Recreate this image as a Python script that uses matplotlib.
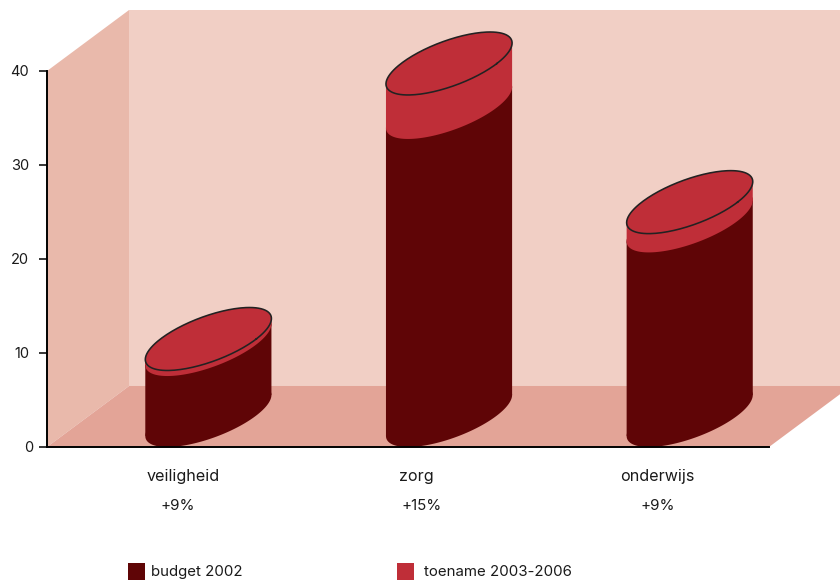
import numpy as np
import matplotlib.pyplot as plt
from matplotlib.patches import Patch
from matplotlib.transforms import ScaledTranslation

plt.rcParams['font.family'] = ['Inter', 'DejaVu Sans']

categories = ['veiligheid', 'zorg', 'onderwijs']
changes = ['+9%', '+15%', '+9%']
budget_2002 = [7.55, 32.77, 20.7]
toename = [0.59, 4.68, 2.0]
yticks = [0, 10, 20, 30, 40]

dark = '#5f0506'
red = '#bf2e38'
ink = '#1a1a1a'

fig = plt.figure(figsize=(8.4, 5.82), dpi=100)
ax = fig.add_axes([47 / 840, 1 - 447 / 582, 722 / 840, 376 / 582])
ax.set_xlim(-0.5, 2.5)
ax.set_ylim(0, 40)

# depth of the fake 3d box, in data units
depth_x = 0.341
depth_y = 6.49
disc_y = 6.7
half_w = 0.199


def walls():
    x0, x1 = ax.get_xlim()
    y0, y1 = ax.get_ylim()
    right = x1 + depth_x
    ax.fill([x0, x0 + depth_x, x0 + depth_x, x0],
            [y0, y0 + depth_y, y1 + depth_y, y1],
            color='#e9b9ab', lw=0, clip_on=False, zorder=1)
    ax.fill([x0 + depth_x, right, right, x0 + depth_x],
            [y0 + depth_y, y0 + depth_y, y1 + depth_y, y1 + depth_y],
            color='#f1cfc5', lw=0, clip_on=False, zorder=1)
    ax.fill([x0, x1, right, x0 + depth_x],
            [y0, y0, y0 + depth_y, y0 + depth_y],
            color='#e3a497', lw=0, clip_on=False, zorder=1.5)


def disc(cx, level):
    t = np.linspace(0, 2 * np.pi, 181)
    x = cx + half_w * np.cos(t) + depth_x / 2 * np.sin(t)
    y = level + disc_y / 2 + disc_y / 2 * np.sin(t)
    return x, y


def cylinder(cx, low, high, color, z):
    # body between two discs, the sides meet the discs at their widest points
    side = np.arctan2(depth_x / 2, half_w)
    off_x = np.hypot(half_w, depth_x / 2)
    off_y = disc_y / 2 * np.sin(side)
    mid = disc_y / 2
    xs = [cx - off_x, cx + off_x, cx + off_x, cx - off_x]
    ys = [low + mid - off_y, low + mid + off_y, high + mid + off_y, high + mid - off_y]
    ax.fill(xs, ys, color=color, lw=0, clip_on=False, zorder=z)
    ax.fill(*disc(cx, low), color=color, lw=0, clip_on=False, zorder=z)
    ax.fill(*disc(cx, high), color=color, lw=0, clip_on=False, zorder=z)


walls()
for i in range(len(categories)):
    cx = i + depth_x / 2
    total = budget_2002[i] + toename[i]
    cylinder(cx, 0, budget_2002[i], dark, 2 + i * 0.1)
    cylinder(cx, budget_2002[i], total, red, 2.02 + i * 0.1)
    x, y = disc(cx, total)
    ax.plot(x, y, color='#222222', lw=1.15, clip_on=False, zorder=2.05 + i * 0.1)

for side in ['top', 'right']:
    ax.spines[side].set_visible(False)
for side in ['left', 'bottom']:
    ax.spines[side].set_linewidth(1.4)
    ax.spines[side].set_color('black')
    ax.spines[side].set_zorder(3)
ax.patch.set_visible(False)

ax.set_yticks(yticks)
ax.tick_params(axis='y', length=6, width=1.1, labelsize=10.5, labelcolor=ink, pad=7)
ax.set_xticks([])

# the zero sits closer to the axis than the other tick labels
zero = ax.get_yticklabels()[0]
zero.set_transform(zero.get_transform() + ScaledTranslation(4 / 100, 0, fig.dpi_scale_trans))

# text sits a little off the category centres
label_shift = [16, 8, 9]
change_shift = [10, 14, 9]
for i in range(len(categories)):
    ax.annotate(categories[i], (i, 0), xytext=(label_shift[i] * 0.72, -30 * 0.72),
                textcoords='offset points', ha='center', va='center',
                fontsize=11.6, color=ink, annotation_clip=False)
    ax.annotate(changes[i], (i, 0), xytext=(change_shift[i] * 0.72, -59 * 0.72),
                textcoords='offset points', ha='center', va='center',
                fontsize=10.9, color=ink, annotation_clip=False)

# two separate legends, the gap to the text differs between them
legend_opts = dict(frameon=False, loc='lower left', borderaxespad=0, borderpad=0,
                   prop={'size': 10.8}, labelcolor=ink, handlelength=1.133, handleheight=1.367)
fig.legend([Patch(color=dark, lw=0)], ['budget 2002'],
           bbox_to_anchor=(128 / 840, 2 / 582), handletextpad=0.4, **legend_opts)
fig.legend([Patch(color=red, lw=0)], ['toename 2003-2006'],
           bbox_to_anchor=(397 / 840, 2 / 582), handletextpad=0.67, **legend_opts)

fig.savefig('out.png', dpi=100)
